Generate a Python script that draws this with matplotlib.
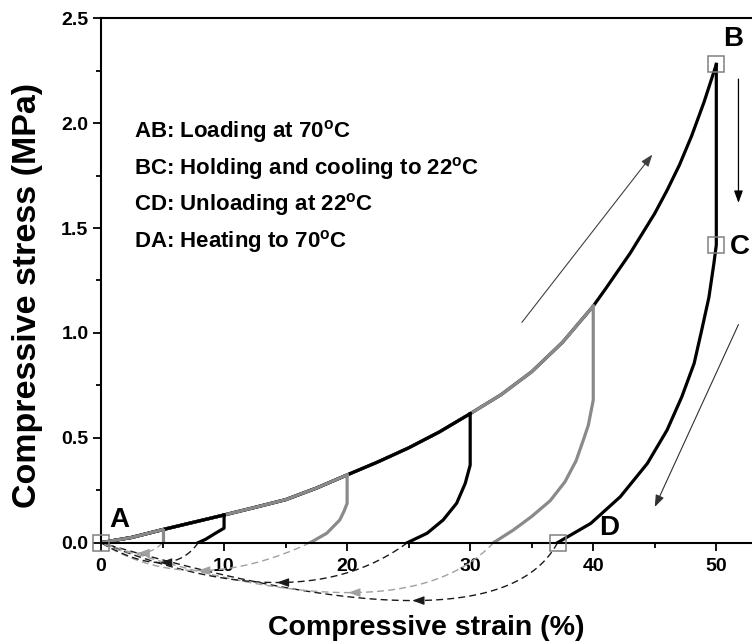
import numpy as np
import matplotlib.pyplot as plt
from matplotlib.ticker import MultipleLocator

plt.rcParams['font.family'] = ['Liberation Sans', 'DejaVu Sans']
plt.rcParams['mathtext.fontset'] = 'custom'
plt.rcParams['mathtext.rm'] = 'Liberation Sans'
plt.rcParams['mathtext.bf'] = 'Liberation Sans:bold'

# loading curve at 70C, shared by all cycles
loading_strain = [0, 2.5, 5, 7.5, 10, 12.5, 15, 17.5, 20, 22.5, 25, 27.5, 30,
                  32.5, 35, 37.5, 40, 41, 42, 43, 44, 45, 46, 47, 48, 49, 50]
loading_stress = [0, 0.025, 0.062, 0.097, 0.132, 0.168, 0.205, 0.26, 0.323,
                  0.385, 0.452, 0.528, 0.615, 0.705, 0.815, 0.955, 1.128,
                  1.21, 1.295, 1.38, 1.475, 1.57, 1.68, 1.80, 1.94, 2.10, 2.28]

# max strain of each cycle
cycle_max = [5, 10, 20, 30, 40, 50]

# holding/cooling drop followed by unloading at 22C
unload_strain = [
    [5, 5],
    [10, 10, 9.3, 8.5, 7.9],
    [20, 20, 19.75, 19.4, 18.35, 17.0],
    [30, 30, 29.6, 28.9, 27.8, 26.5, 24.9],
    [40, 40, 39.6, 39.2, 38.6, 37.7, 36.5, 35.0, 33.5, 31.9],
    [50, 50, 49.8, 49.4, 48.8, 48.2, 47.2, 46.0, 44.4, 42.2, 39.8, 37.1],
]
unload_stress = [
    [0.062, 0.0],
    [0.132, 0.069, 0.045, 0.016, 0.0],
    [0.323, 0.188, 0.15, 0.108, 0.045, 0.0],
    [0.615, 0.37, 0.283, 0.188, 0.108, 0.045, 0.0],
    [1.128, 0.68, 0.56, 0.49, 0.39, 0.29, 0.20, 0.125, 0.06, 0.0],
    [2.28, 1.42, 1.33, 1.17, 1.01, 0.855, 0.696, 0.537, 0.378, 0.219, 0.092, 0.0],
]

# key points of the 50% cycle
point_labels = ['A', 'B', 'C', 'D']
point_strain = [0, 50, 50, 37.1]
point_stress = [0, 2.28, 1.42, 0]

steps = ['AB: Loading at 70$^\\mathbf{o}$C',
         'BC: Holding and cooling to 22$^\\mathbf{o}$C',
         'CD: Unloading at 22$^\\mathbf{o}$C',
         'DA: Heating to 70$^\\mathbf{o}$C']

# bend of the dashed recovery arcs drawn under the axis (control point)
arc_ctrl_x = [3.46, 5.65, 7.3, 16.15, 24.25, 32.05]
arc_ctrl_y = [-0.10, -0.19, -0.266, -0.38, -0.476, -0.552]

line_colors = ['#8a8a8a', 'black'] * 3
arc_colors = ['#a0a0a0', '#1a1a1a'] * 3

fig = plt.figure(figsize=(7.52, 6.41), dpi=100)
ax = fig.add_axes([0.1343, 0.1534, 0.8657, 0.8181])

ls = np.array(loading_strain)
lst = np.array(loading_stress)
for i in reversed(range(len(cycle_max))):
    m = ls <= cycle_max[i]
    ax.plot(ls[m], lst[m], color=line_colors[i], lw=2.3, solid_joinstyle='round')
    ax.plot(unload_strain[i], unload_stress[i], color=line_colors[i], lw=2.3,
            solid_joinstyle='round')

    # heating recovery back to A
    r = unload_strain[i][-1]
    t = np.linspace(0, 1, 80)
    bx = (1 - t) ** 2 * r + 2 * (1 - t) * t * arc_ctrl_x[i]
    by = 2 * (1 - t) * t * arc_ctrl_y[i]
    ax.plot(bx, by, color=arc_colors[i], lw=1.0, ls=(0, (5, 3)), clip_on=False)
    mx = 0.25 * r + 0.5 * arc_ctrl_x[i]
    my = 0.5 * arc_ctrl_y[i]
    ax.annotate('', xy=(mx, my), xytext=(mx + 0.6, my),
                arrowprops=dict(arrowstyle='-|>,head_length=0.6,head_width=0.22',
                                color=arc_colors[i], lw=0.8, mutation_scale=12,
                                shrinkA=0, shrinkB=0),
                annotation_clip=False)

ax.plot(point_strain, point_stress, ls='none', marker='s', ms=11,
        mfc='none', mec='#808080', mew=1.1, clip_on=False, zorder=5)

label_off = [(1.5, 0.11), (51.4, 2.40), (51.9, 1.41), (41.3, 0.07)]
for lab, (tx, ty) in zip(point_labels, label_off):
    ax.text(tx, ty, lab, fontsize=20, fontweight='bold', ha='center', va='center')

for k, s in enumerate(steps):
    ax.text(2.7, 1.96 - 0.175 * k, s, fontsize=16, fontweight='bold',
            ha='left', va='center')

arrow_kw = dict(arrowstyle='-|>,head_length=0.6,head_width=0.22',
                mutation_scale=12, shrinkA=0, shrinkB=0)
ax.annotate('', xy=(44.8, 1.85), xytext=(34.2, 1.05),
            arrowprops=dict(color='#404040', lw=0.8, **arrow_kw))
ax.annotate('', xy=(51.8, 1.62), xytext=(51.8, 2.21),
            arrowprops=dict(color='black', lw=0.9, **arrow_kw))
ax.annotate('', xy=(45.0, 0.17), xytext=(51.8, 1.04),
            arrowprops=dict(color='#303030', lw=0.8, **arrow_kw))

ax.set_xlim(0, 52.9)
ax.set_ylim(0, 2.5)
ax.xaxis.set_major_locator(MultipleLocator(10))
ax.xaxis.set_minor_locator(MultipleLocator(5))
ax.yaxis.set_major_locator(MultipleLocator(0.5))
ax.yaxis.set_minor_locator(MultipleLocator(0.25))
ax.yaxis.set_major_formatter(plt.FormatStrFormatter('%.1f'))
ax.spines['right'].set_visible(False)
for sp in ax.spines.values():
    sp.set_linewidth(1.5)
ax.tick_params(which='major', direction='out', length=6, width=1.3,
               labelsize=14, pad=3)
ax.tick_params(which='minor', direction='out', length=3.5, width=1.3)
ax.tick_params(axis='x', pad=5)
for lab in ax.get_xticklabels() + ax.get_yticklabels():
    lab.set_fontweight('bold')

ax.set_xlabel('Compressive strain (%)', fontsize=20.5, fontweight='bold', labelpad=29)
ax.set_ylabel('Compressive stress (MPa)', fontsize=24.5, fontweight='bold')
ax.yaxis.set_label_coords(-0.089, 0.472)

fig.savefig('out.png', dpi=100)
